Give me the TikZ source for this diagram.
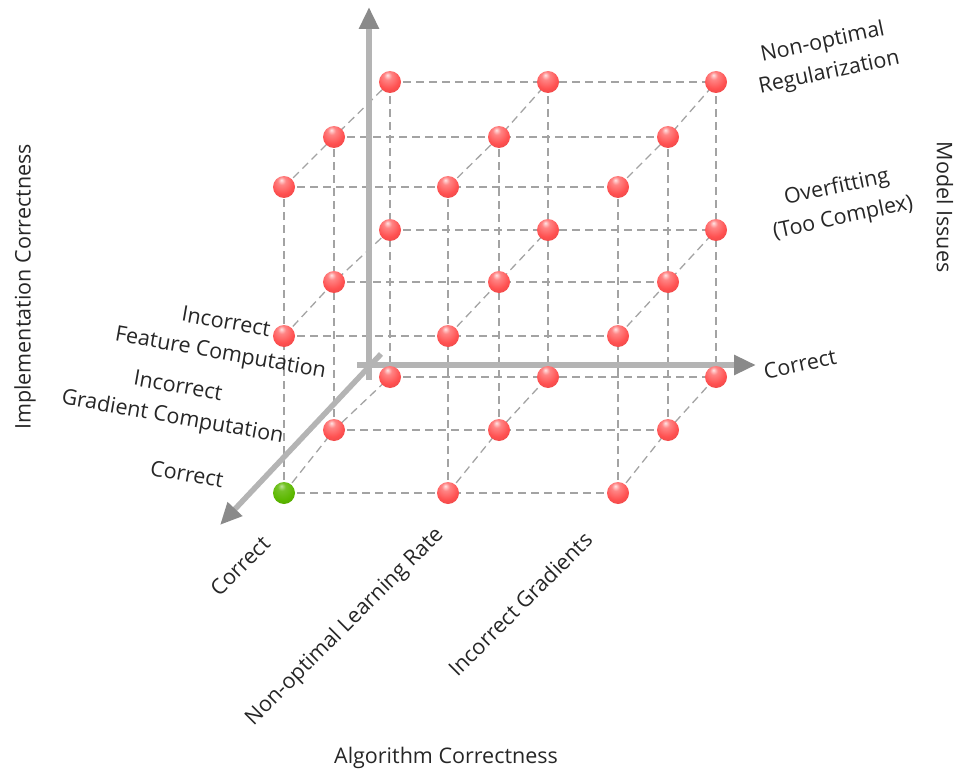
\documentclass[tikz,border=0pt]{standalone}
\usepackage{fontspec}
\setmainfont{Open Sans}
\usetikzlibrary{arrows.meta}

\pgfdeclarelayer{grid}
\pgfdeclarelayer{axes}
\pgfsetlayers{grid,axes,main}

\definecolor{ballred}{HTML}{FF5050}
\definecolor{ballgreen}{HTML}{5CB800}
\definecolor{gridgray}{HTML}{A3A3A3}
\definecolor{shaftgray}{HTML}{B4B4B4}
\definecolor{tipgray}{HTML}{8A8A8A}
\definecolor{labelgray}{HTML}{262626}

% sphere-like shadings for the grid points
\pgfdeclareradialshading{redsphere}{\pgfqpoint{-6bp}{16bp}}{%
  color(0bp)=(ballred!15!white); color(9bp)=(ballred!70!white);
  color(26bp)=(ballred); color(50bp)=(ballred!82!black); color(75bp)=(ballred!70!black)}
\pgfdeclareradialshading{greensphere}{\pgfqpoint{-6bp}{16bp}}{%
  color(0bp)=(ballgreen!40!white); color(9bp)=(ballgreen!85!white);
  color(26bp)=(ballgreen); color(50bp)=(ballgreen!78!black); color(75bp)=(ballgreen!65!black)}

\tikzset{
  redball/.style={circle, minimum size=22pt, inner sep=0pt, shade, shading=redsphere},
  greenball/.style={circle, minimum size=22pt, inner sep=0pt, shade, shading=greensphere},
  gridline/.style={draw=gridgray, line width=1.3pt, dash pattern=on 8pt off 5pt},
  axisline/.style={draw=shaftgray, line width=5.5pt,
    -{Triangle[length=22pt, width=19pt, fill=tipgray, color=tipgray]}},
  lbl/.style={font=\fontsize{21.5}{31}\selectfont, text=labelgray, inner sep=0pt, align=center}
}

\begin{document}
\begin{tikzpicture}[x=1pt, y=-1pt]
\useasboundingbox (0,0) rectangle (956,773);

% grid points: column i, row j (bottom to top), depth k (front to back)
\foreach \k/\xa/\xb/\xc/\ya/\yb/\yc in
    {0/284/448/618/493/336/187, 1/334/499/668/430/282/137, 2/390/548/716/377/230/82}{
  \foreach \i/\x in {0/\xa, 1/\xb, 2/\xc}{
    \foreach \j/\y in {0/\ya, 1/\yb, 2/\yc}{
      \ifnum\i\j\k=0
        \tikzset{curball/.style=greenball}
      \else
        \tikzset{curball/.style=redball}
      \fi
      \node[curball] (b\i\j\k) at (\x,\y) {};
    }
  }
}

% dashed lattice
\begin{pgfonlayer}{grid}
\foreach \a in {0,1,2}{
  \foreach \b in {0,1,2}{
    \draw[gridline] (b0\a\b.center) -- (b1\a\b.center) -- (b2\a\b.center);
    \draw[gridline] (b\a0\b.center) -- (b\a1\b.center) -- (b\a2\b.center);
    \draw[gridline] (b\a\b0.center) -- (b\a\b1.center) -- (b\a\b2.center);
  }
}
\end{pgfonlayer}

% axes
\coordinate (vtail) at (369,380);
\coordinate (vhead) at (369,7);
\coordinate (htail) at (357,365);
\coordinate (hhead) at (756,365);
\coordinate (dtail) at (381,354);
\coordinate (dhead) at (220,525);
\begin{pgfonlayer}{axes}
\draw[axisline] (vtail) -- (vhead);
\draw[axisline] (htail) -- (hhead);
\draw[axisline] (dtail) -- (dhead);
\end{pgfonlayer}

% axis titles
\node[lbl, rotate=90] (implt) at (25,287) {Implementation Correctness};
\node[lbl, rotate=-90] (modelt) at (945,207) {Model Issues};
\node[lbl] (algt) at (446,758) {Algorithm Correctness};

% implementation levels
\node[lbl, rotate=-10] (impl2) at (223,339) {Incorrect\\Feature Computation};
\node[lbl, rotate=-10] (impl1) at (175,403) {Incorrect\\Gradient Computation};
\node[lbl, rotate=-10] (impl0) at (187,474) {Correct};

% model levels
\node[lbl, rotate=12] (mod2) at (826,58) {Non-optimal\\Regularization};
\node[lbl, rotate=12] (mod1) at (840,203) {Overfitting\\(Too Complex)};
\node[lbl, rotate=12] (mod0) at (800,364) {Correct};

% algorithm levels
\node[lbl, rotate=45] (alg0) at (240,566) {Correct};
\node[lbl, rotate=45] (alg1) at (345,627) {Non-optimal Learning Rate};
\node[lbl, rotate=45] (alg2) at (520,604) {Incorrect Gradients};
\end{tikzpicture}
\end{document}
